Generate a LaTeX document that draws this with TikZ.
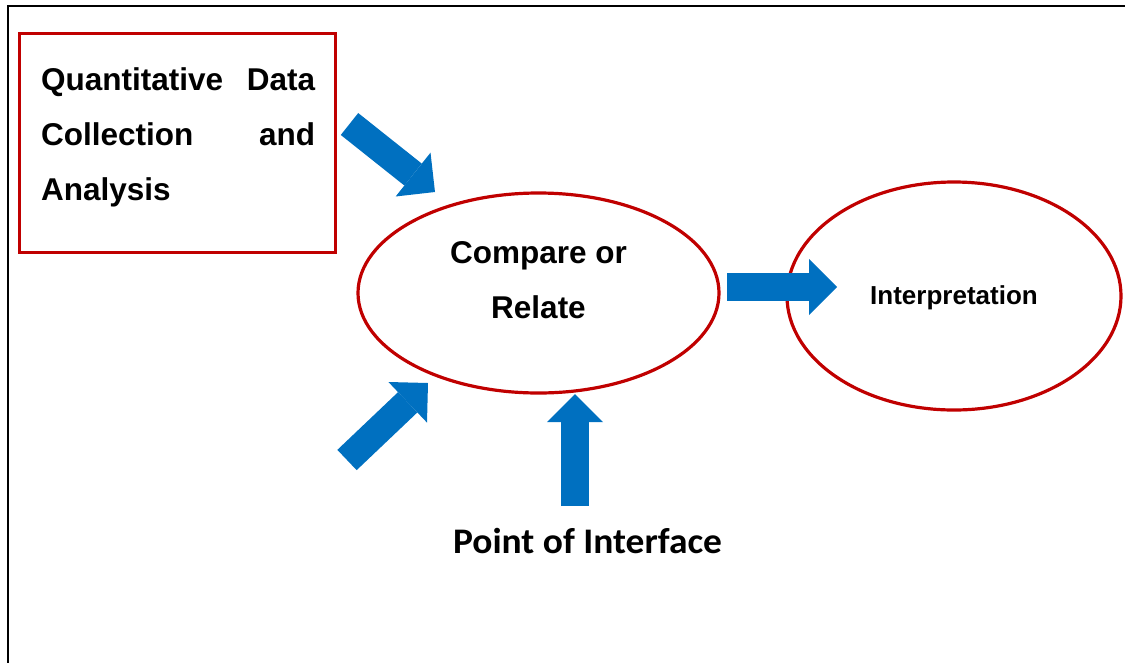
\documentclass[tikz,border=0pt]{standalone}
\usepackage{fontspec}
\setmainfont{Liberation Sans}
\newfontfamily\captionface{Carlito}
\usetikzlibrary{shapes.geometric,arrows.meta}
\definecolor{boxred}{HTML}{C00000}
\definecolor{flowblue}{HTML}{0070C0}

\begin{document}
\begin{tikzpicture}[x=1pt,y=-1pt,
  frameline/.style={line width=2pt, draw=black},
  redbox/.style={rectangle, draw=boxred, line width=3pt, inner sep=0pt},
  redoval/.style={ellipse, draw=boxred, line width=3.2pt, inner sep=0pt},
  bigtext/.style={font=\bfseries\fontsize{31.5}{55}\selectfont, inner sep=0pt},
  smalltext/.style={font=\bfseries\fontsize{26}{30}\selectfont, inner sep=0pt},
  notetext/.style={font=\captionface\bfseries\fontsize{36}{40}\selectfont, inner sep=0pt, xscale=1.04},
  blockarrow/.style={draw=flowblue, line width=28pt,
    -{Triangle[length=28pt, width=56pt, line width=0pt]}}
]
\useasboundingbox (0,0) rectangle (1125,662);

% page frame (open at the bottom and on the right)
\coordinate (fbl) at (8,663);
\coordinate (ftl) at (8,6);
\coordinate (ftr) at (1126,6);
\draw[frameline] (fbl) -- (ftl) -- (ftr);

% quantitative strand
\node[redbox, minimum width=316pt, minimum height=219pt] (quant) at (177.5,142.5) {};
\node[bigtext, anchor=north west, text width=274pt, align=left] (quanttext) at (41,67)
  {Quantitative\hfill Data\\Collection\hfill and\\Analysis};

% merging step
\node[redoval, minimum width=361pt, minimum height=200pt] (compare) at (538.5,293) {};
\node[bigtext, anchor=north, align=center] (comparetext) at (538.5,241)
  {Compare or\\Relate};

% result
\node[redoval, minimum width=334pt, minimum height=228pt] (interp) at (954,296) {};
\node[smalltext, anchor=base] (interptext) at (954,304) {Interpretation};

% caption under the merging step
\node[notetext, anchor=base] (interface) at (587.5,553) {Point of Interface};

% block arrows
\coordinate (a1s) at (349.5,124);  \coordinate (a1e) at (435,192);
\coordinate (a2s) at (347,460);    \coordinate (a2e) at (428,383);
\coordinate (a3s) at (575,506);    \coordinate (a3e) at (575,394);
\coordinate (a4s) at (727,287);    \coordinate (a4e) at (837,287);
\draw[blockarrow] (a1s) -- (a1e);
\draw[blockarrow] (a2s) -- (a2e);
\draw[blockarrow] (a3s) -- (a3e);
\draw[blockarrow] (a4s) -- (a4e);
\end{tikzpicture}
\end{document}
